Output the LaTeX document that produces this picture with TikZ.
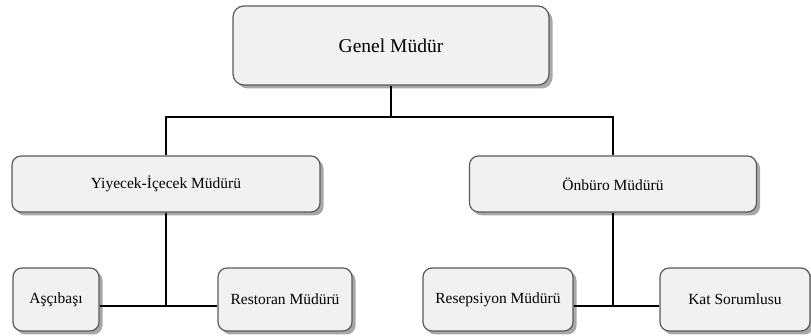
\documentclass[tikz,border=0pt]{standalone}
\usepackage{fontspec}
\setmainfont{Liberation Serif}
\usetikzlibrary{shadows}
\definecolor{boxfill}{HTML}{F1F1F1}
\definecolor{boxline}{HTML}{5A5A5A}
\definecolor{shadowgray}{HTML}{A8A8A8}
\begin{document}
\begin{tikzpicture}[x=1pt,y=-1pt,
  unit/.style={draw=boxline, line width=1.2pt, fill=boxfill, rounded corners=9pt,
    rectangle, inner sep=0pt, font=\fontsize{15.5}{18}\selectfont,
    drop shadow={shadow xshift=3.5pt, shadow yshift=-3.5pt, fill=shadowgray, opacity=1}},
  link/.style={draw=black, line width=1.3pt}]
  \useasboundingbox (0,0) rectangle (811,336);
  % top level
  \node[unit, minimum width=316pt, minimum height=79pt, rounded corners=11pt,
        font=\fontsize{19.5}{22}\selectfont] (gm) at (391,45.5) {Genel Müdür};
  % second level
  \node[unit, minimum width=308pt, minimum height=56pt] (yi) at (166,184) {Yiyecek-İçecek Müdürü};
  \node[unit, minimum width=287pt, minimum height=56pt] (ob) at (613,184) {Önbüro Müdürü};
  % third level
  \node[unit, minimum width=86pt, minimum height=63pt] (as) at (56,299.5) {Aşçıbaşı};
  \node[unit, minimum width=134pt, minimum height=63pt] (rm) at (285,299.5) {Restoran Müdürü};
  \node[unit, minimum width=150pt, minimum height=63pt] (rs) at (498,299.5) {Resepsiyon Müdürü};
  \node[unit, minimum width=150pt, minimum height=63pt] (ks) at (735,299.5) {Kat Sorumlusu};
  % junction points
  \coordinate (top) at (391,117);
  \coordinate (lj) at (166,306);
  \coordinate (rj) at (613,306);
  % connectors
  \draw[link] (gm.south) -- (top);
  \draw[link] (yi.north) -- (yi.north |- top) -- (ob.north |- top) -- (ob.north);
  \draw[link] (yi.south) -- (lj);
  \draw[link] (as.east |- lj) -- (rm.west |- lj);
  \draw[link] (ob.south) -- (rj);
  \draw[link] (rs.east |- rj) -- (ks.west |- rj);
\end{tikzpicture}
\end{document}
